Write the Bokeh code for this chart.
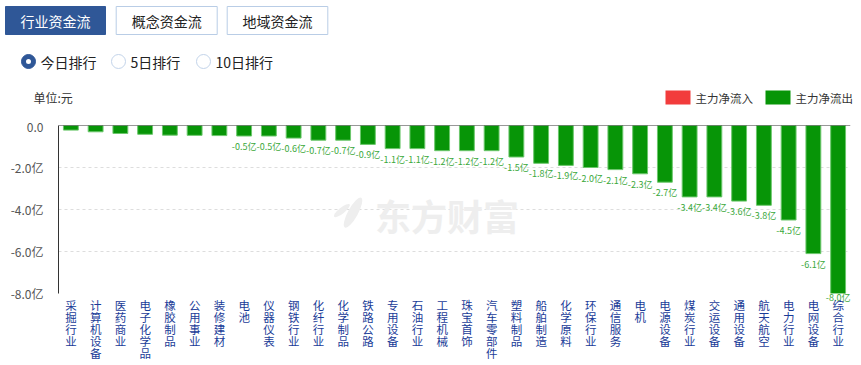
from bokeh.plotting import figure
from bokeh.layouts import column
from bokeh.models import (Range1d, FixedTicker, Span, LabelSet, ColumnDataSource,
                          LinearAxis)
from bokeh.core.properties import value
from bokeh.embed import file_html
from bokeh.resources import INLINE

# ---------------- data ----------------
categories = ["采掘行业", "计算机设备", "医药商业", "电子化学品", "橡胶制品", "公用事业",
              "装修建材", "电池", "仪器仪表", "钢铁行业", "化纤行业", "化学制品", "铁路公路",
              "专用设备", "石油行业", "工程机械", "珠宝首饰", "汽车零部件", "塑料制品",
              "船舶制造", "化学原料", "环保行业", "通信服务", "电机", "电源设备", "煤炭行业",
              "交运设备", "通用设备", "航天航空", "电力行业", "电网设备", "综合行业"]
net_flow = [-0.22, -0.30, -0.38, -0.42, -0.46, -0.47, -0.48, -0.5, -0.5, -0.6, -0.7,
            -0.7, -0.9, -1.1, -1.1, -1.2, -1.2, -1.2, -1.5, -1.8, -1.9, -2.0, -2.1,
            -2.3, -2.7, -3.4, -3.4, -3.6, -3.8, -4.5, -6.1, -8.0]
bar_labels = ["", "", "", "", "", "", "", "-0.5亿", "-0.5亿", "-0.6亿", "-0.7亿",
              "-0.7亿", "-0.9亿", "-1.1亿", "-1.1亿", "-1.2亿", "-1.2亿", "-1.2亿",
              "-1.5亿", "-1.8亿", "-1.9亿", "-2.0亿", "-2.1亿", "-2.3亿", "-2.7亿",
              "-3.4亿", "-3.4亿", "-3.6亿", "-3.8亿", "-4.5亿", "-6.1亿", "-8.0亿"]
y_ticks = [0, -2, -4, -6, -8]
y_tick_labels = ["0.0", "-2.0亿", "-4.0亿", "-6.0亿", "-8.0亿"]
tabs = ["行业资金流", "概念资金流", "地域资金流"]
radios = ["今日排行", "5日排行", "10日排行"]
legend_items = ["主力净流入", "主力净流出"]
unit_text = "单位:元"
watermark = "东方财富"

FONT = "Noto Sans CJK SC"
GREEN = "#079507"
RED = "#f23c3c"
BLUE = "#2f5797"
W = 858
TOP_H = 117
Y_MIN, Y_MAX = -8, 0

# ---------------- header figure (pixel coordinates) ----------------
top = figure(width=W, height=TOP_H, x_range=Range1d(0, W), y_range=Range1d(TOP_H, 0),
             toolbar_location=None, output_backend="svg", min_border=0,
             x_axis_location=None, y_axis_location=None)
top.frame_align = False
top.grid.visible = False
top.outline_line_color = None

tab_left = [5, 115.7, 226.7]
tab_right = [105, 216.7, 327.3]
top.quad(left=tab_left, right=tab_right, top=[6] * 3, bottom=[34] * 3,
         fill_color=[BLUE, "white", "white"], line_color=[BLUE, "#b9cde6", "#b9cde6"],
         line_width=1)
top.text(x=[(l + r) / 2 for l, r in zip(tab_left, tab_right)], y=[20] * 3, text=tabs,
         text_color=["white", "#222222", "#222222"], text_font=value(FONT),
         text_font_size="14px", text_align="center", text_baseline="middle")

radio_x = [28, 118, 203]
top.scatter(x=radio_x, y=[61] * 3, size=14, marker="circle",
            fill_color=[BLUE, "white", "white"], line_color=[BLUE, "#c3d4ea", "#c3d4ea"])
top.scatter(x=radio_x[:1], y=[61], size=5, marker="circle", fill_color="white",
            line_color=None)
top.text(x=[x + 12 for x in radio_x], y=[61] * 3, text=radios, text_color="#222222",
         text_font=value(FONT), text_font_size="14px", text_baseline="middle")

top.text(x=[33], y=[97], text=[unit_text], text_color="#333333", text_font=value(FONT),
         text_font_size="12px", text_baseline="middle")

leg_x = [665, 765]
top.quad(left=leg_x, right=[x + 25 for x in leg_x], top=[90, 90], bottom=[104, 104],
         fill_color=[RED, GREEN], line_color=None)
top.text(x=[x + 30 for x in leg_x], y=[97, 97], text=legend_items, text_color="#333333",
         text_font=value(FONT), text_font_size="11.5px", text_baseline="middle")

# ---------------- chart figure ----------------
x_pos = list(range(len(categories)))
src = ColumnDataSource(dict(x=x_pos, cat=categories, val=net_flow, lab=bar_labels))
p = figure(frame_width=792, frame_height=168, x_range=Range1d(-0.5, len(categories) - 0.5),
           y_range=Range1d(Y_MIN, Y_MAX), toolbar_location=None, output_backend="svg",
           x_axis_location=None,
           min_border_left=58, min_border_right=8, min_border_top=8, min_border_bottom=70)
p.frame_align = False
p.outline_line_color = None
p.xgrid.grid_line_color = None
p.ygrid.grid_line_color = "#dddddd"
p.ygrid.grid_line_dash = "3 3"
p.yaxis.ticker = FixedTicker(ticks=y_ticks)
p.yaxis.major_label_overrides = {t: l for t, l in zip(y_ticks, y_tick_labels)}
p.yaxis.major_tick_line_color = None
p.yaxis.minor_tick_line_color = None
p.yaxis.axis_line_color = "#333333"
p.yaxis.major_label_text_font = FONT
p.yaxis.major_label_text_font_size = "12px"
p.yaxis.major_label_text_color = "#555555"
p.yaxis.major_label_standoff = 9


def label_axis(labels, color, size, standoff):
    ax = LinearAxis(ticker=FixedTicker(ticks=x_pos), axis_line_color=None,
                    major_tick_line_color=None, minor_tick_line_color=None,
                    major_tick_out=0, major_tick_in=0,
                    major_label_overrides={i: t for i, t in zip(x_pos, labels)},
                    major_label_text_font=FONT, major_label_text_font_size=size,
                    major_label_text_color=color, major_label_standoff=standoff)
    p.add_layout(ax, "below")
    return ax


# value label of a bar that reaches the bottom of the value range (drawn under it)
label_axis([(l if v <= Y_MIN else "") for v, l in zip(net_flow, bar_labels)],
           "#3aa83a", "9px", -3)
# category names written vertically: one axis row per character
max_len = max(len(c) for c in categories)
for k in range(max_len):
    label_axis([(c[k] if k < len(c) else "") for c in categories],
               "#1a3c98", "11.5px", -10 if k == 0 else -7)

# watermark (light grey logo + text)
p.ellipse(x=[11.4], y=[-4.15], width=10, height=34, angle=-0.5, width_units="screen",
          height_units="screen", fill_color="#eeeeee", line_color=None)
p.ellipse(x=[10.95], y=[-4.05], width=6, height=20, angle=-0.9, width_units="screen",
          height_units="screen", fill_color="#eeeeee", line_color=None)
p.text(x=[15.2], y=[-4.24], text=[watermark], text_color="#eeeeee",
       text_font=value(FONT), text_font_size="36px", text_font_style="bold",
       text_align="center", text_baseline="middle")

p.vbar(x="x", top="val", bottom=0, width=0.6, source=src, fill_color=GREEN,
       line_color="#6cc76c", line_width=1)
p.add_layout(Span(location=0, dimension="width", line_color="#333333", line_width=1.2))
p.add_layout(LabelSet(x="x", y="val", text="lab", source=src, text_color="#3aa83a",
                      text_font=value(FONT), text_font_size="9px", text_align="center",
                      text_baseline="top", y_offset=-4))

layout = column(top, p, spacing=0)
open("out.html", "w").write(file_html(layout, INLINE))
